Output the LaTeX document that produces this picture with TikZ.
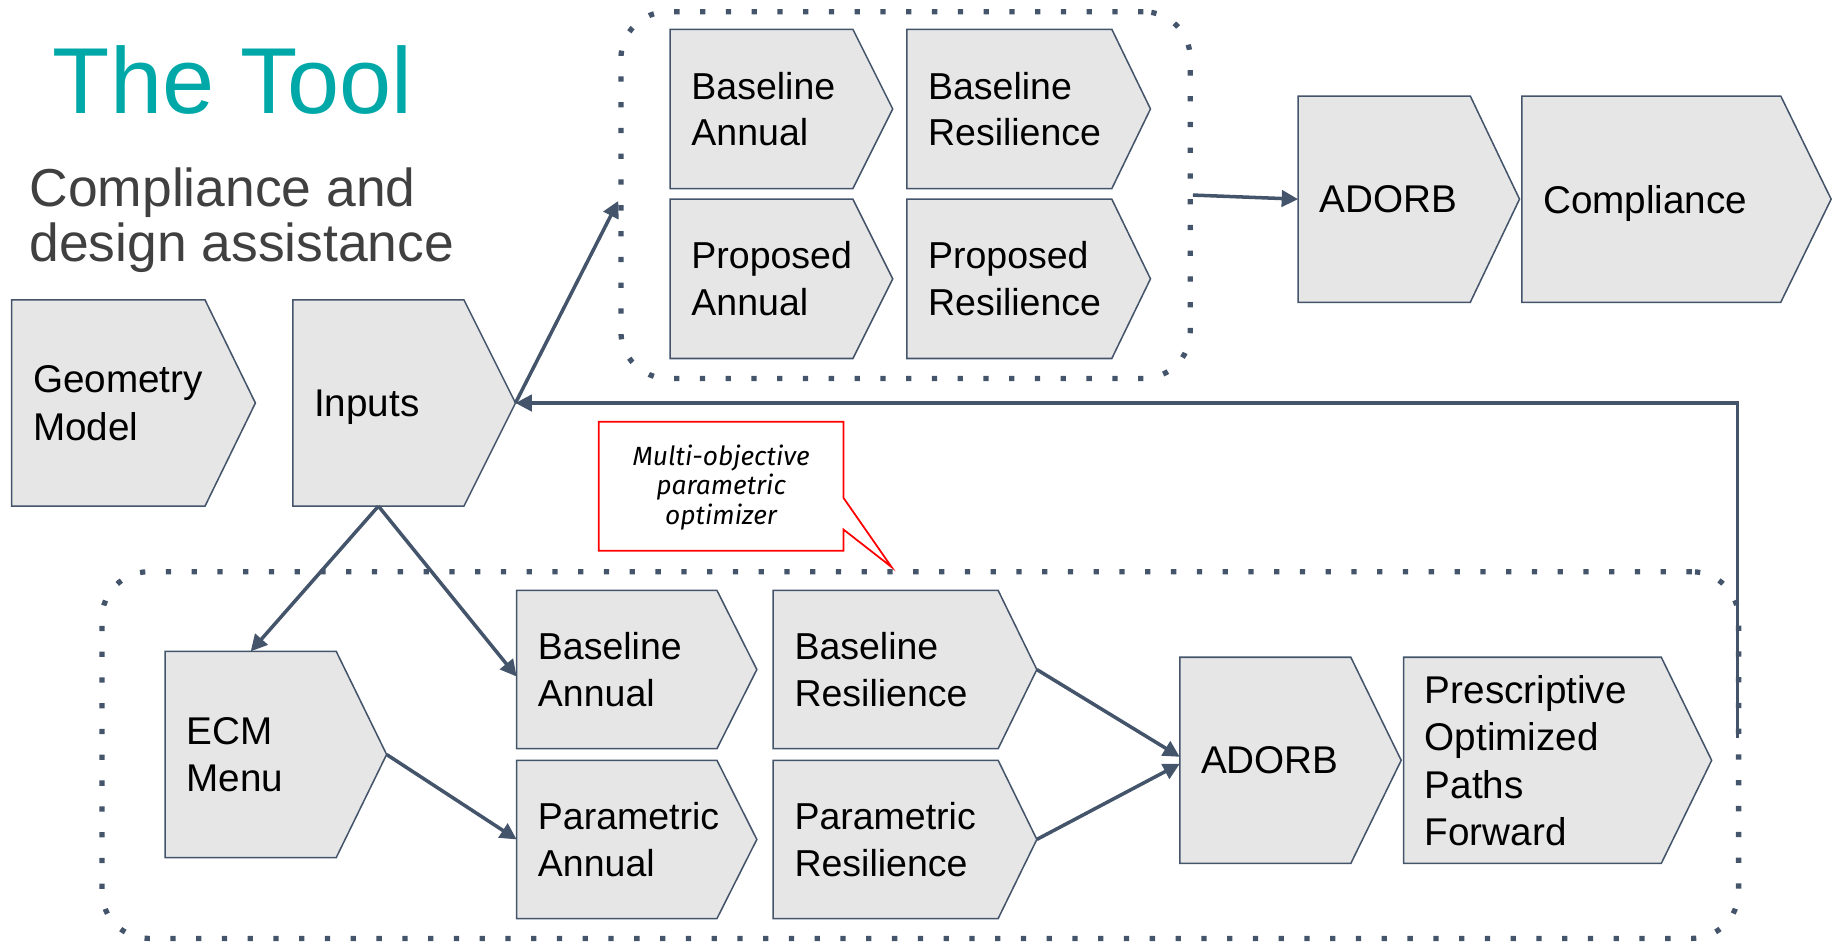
\documentclass[tikz,border=0pt]{standalone}
\usepackage{fontspec}
\setmainfont{Liberation Sans}
\newfontfamily\callfont{Fira Sans}
\usetikzlibrary{arrows.meta,calc}
\definecolor{slate}{HTML}{44546A}
\definecolor{boxfill}{HTML}{E6E6E6}
\definecolor{tealt}{HTML}{00A8A8}
\definecolor{subgray}{HTML}{404040}
\newcommand{\mkchev}[8][]{%
  \draw[chev] (#3,#4) -- (#5,#4) -- (#7,{(#4+#6)/2}) -- (#5,#6) -- (#3,#6) -- cycle;
  \coordinate (#2-tip) at (#7,{(#4+#6)/2});
  \coordinate (#2-w) at (#3,{(#4+#6)/2});
  \coordinate (#2-n) at ({(#3+#5)/2},#4);
  \coordinate (#2-s) at ({(#3+#5)/2},#6);
  \node[boxtext,#1] (#2) at ({#3+18},{(#4+#6)/2}) {#8};
}
\begin{document}
\begin{tikzpicture}[x=1bp,y=-1bp,
  chev/.style={draw=slate, fill=boxfill, line width=1.3bp},
  boxtext/.style={anchor=west, inner sep=0pt, align=left, text depth=0pt,
    font=\fontsize{33bp}{40.5bp}\selectfont, text=black},
  smalltext/.style={font=\fontsize{32bp}{40bp}\selectfont},
  conn/.style={draw=slate, line width=3bp, -{Triangle[length=14bp,width=14bp]}},
  dotbox/.style={draw=slate, line width=4.5bp, dash pattern=on 4.5bp off 17.5bp,
    rounded corners=40bp, inner sep=0pt},
]
\useasboundingbox (0,0) rectangle (1568,807);

% titles
\node[anchor=base west, inner sep=0pt, text=tealt, font=\fontsize{80bp}{96bp}\selectfont] (title) at (45,97) {The Tool};
\node[anchor=base west, inner sep=0pt, text=subgray, font=\fontsize{45.6bp}{47bp}\selectfont] (sub1) at (25,176.5) {Compliance and};
\node[anchor=base west, inner sep=0pt, text=subgray, font=\fontsize{45.6bp}{47bp}\selectfont] (sub2) at (25,223) {design assistance};

% dotted groups
\node[dotbox, minimum width=486bp, minimum height=313bp] (topgroup) at (773,166.5) {};
\node[dotbox, minimum width=1397bp, minimum height=313bp] (botgroup) at (785.5,644.5) {};

% chevrons
\mkchev{geo}{10}{256}{175}{432}{218}{Geometry\\Model}
\mkchev{inputs}{250}{256}{396}{432}{440}{Inputs}

\mkchev[smalltext]{tba}{572}{25}{728}{161}{762}{Baseline\\Annual}
\mkchev[smalltext]{tbr}{774}{25}{949}{161}{982}{Baseline\\Resilience}
\mkchev[smalltext]{tpa}{572}{170}{728}{306}{762}{Proposed\\Annual}
\mkchev[smalltext]{tpr}{774}{170}{949}{306}{982}{Proposed\\Resilience}

\mkchev{adorbA}{1108}{82}{1255}{258}{1297}{ADORB}
\mkchev{comp}{1299}{82}{1520}{258}{1563}{Compliance}

\mkchev{ecm}{141}{556}{287}{732}{330}{ECM\\Menu}
\mkchev[smalltext]{bba}{441}{504}{612}{639}{646}{Baseline\\Annual}
\mkchev[smalltext]{bpa}{441}{649}{612}{784}{646}{Parametric\\Annual}
\mkchev[smalltext]{bbr}{660}{504}{852}{639}{885}{Baseline\\Resilience}
\mkchev[smalltext]{bpr}{660}{649}{852}{784}{885}{Parametric\\Resilience}
\mkchev{adorbB}{1007}{561}{1153}{737}{1196}{ADORB}
\mkchev{presc}{1198}{561}{1418}{737}{1461}{Prescriptive\\Optimized\\Paths\\Forward}

% callout
\draw[red, line width=1.5bp] (511,360) -- (720,360) -- (720,425) -- (761,484) -- (720,452) -- (720,470) -- (511,470) -- cycle;
\node[inner sep=0pt, align=center, font=\callfont\itshape\fontsize{22.5bp}{25bp}\selectfont] (calltext) at (615.5,416) {Multi-objective\\parametric\\optimizer};

% connectors
\coordinate (fb) at (1483,630);
\draw[conn] (inputs-tip) -- ($(topgroup.west)+(0,5)$);
\draw[conn] (topgroup.east) -- (adorbA-w);
\draw[conn] (fb) |- (inputs-tip);
\draw[conn] (inputs-s) -- (ecm-n);
\draw[conn] (inputs-s) -- ($(bba-w)+(0,6)$);
\draw[conn] (ecm-tip) -- (bpa-w);
\draw[conn] (bbr-tip) -- ($(adorbB-w)+(0,-3)$);
\draw[conn] (bpr-tip) -- ($(adorbB-w)+(0,3)$);
\end{tikzpicture}
\end{document}
